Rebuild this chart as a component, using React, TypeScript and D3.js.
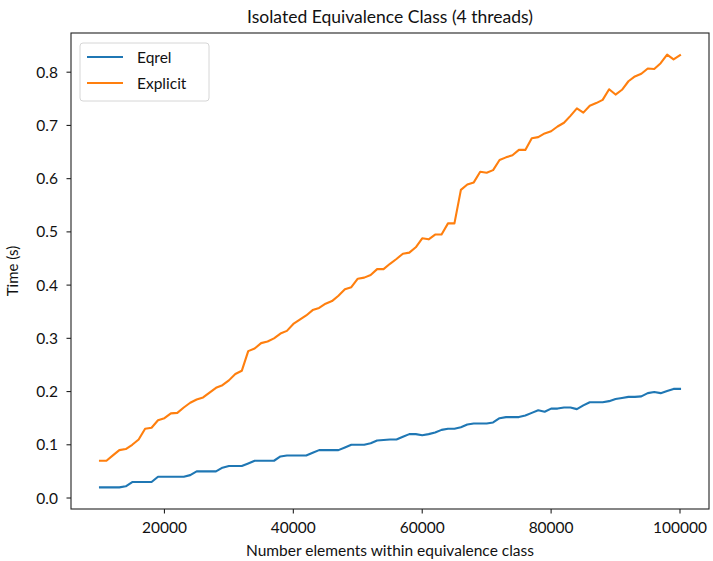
import React from 'react';
import * as d3 from 'd3';

// elements within the class, in thousands
const sizes = d3.range(10, 101).map(k => k * 1000);

const eqrel = [
  0.02, 0.02, 0.02, 0.02, 0.022, 0.03, 0.03, 0.03, 0.03, 0.04,
  0.04, 0.04, 0.04, 0.04, 0.043, 0.05, 0.05, 0.05, 0.05, 0.057,
  0.06, 0.06, 0.06, 0.065, 0.07, 0.07, 0.07, 0.07, 0.078, 0.08,
  0.08, 0.08, 0.08, 0.085, 0.09, 0.09, 0.09, 0.09, 0.095, 0.10,
  0.10, 0.10, 0.103, 0.108, 0.109, 0.11, 0.11, 0.115, 0.12, 0.12,
  0.118, 0.12, 0.123, 0.128, 0.13, 0.13, 0.133, 0.138, 0.14, 0.14,
  0.14, 0.142, 0.15, 0.152, 0.152, 0.152, 0.155, 0.16, 0.165, 0.162,
  0.168, 0.168, 0.17, 0.17, 0.167, 0.174, 0.18, 0.18, 0.18, 0.182,
  0.186, 0.188, 0.19, 0.19, 0.191, 0.197, 0.199, 0.197, 0.201, 0.205,
  0.205,
];

const explicit = [
  0.07, 0.07, 0.08, 0.09, 0.092, 0.10, 0.11, 0.13, 0.132, 0.146,
  0.15, 0.159, 0.16, 0.17, 0.179, 0.185, 0.189, 0.198, 0.207, 0.212,
  0.221, 0.233, 0.239, 0.276, 0.281, 0.291, 0.294, 0.30, 0.309, 0.314,
  0.327, 0.335, 0.343, 0.353, 0.357, 0.365, 0.37, 0.38, 0.392, 0.396,
  0.412, 0.414, 0.419, 0.43, 0.43, 0.44, 0.449, 0.459, 0.461, 0.471,
  0.488, 0.486, 0.495, 0.495, 0.516, 0.516, 0.579, 0.589, 0.593, 0.613,
  0.611, 0.616, 0.635, 0.64, 0.644, 0.654, 0.654, 0.676, 0.678, 0.685,
  0.689, 0.698, 0.705, 0.718, 0.732, 0.724, 0.737, 0.742, 0.748, 0.768,
  0.758, 0.767, 0.783, 0.792, 0.797, 0.807, 0.806, 0.817, 0.833, 0.824,
  0.832,
];

const seriesNames = ['Eqrel', 'Explicit'];
const seriesColors = ['#1f77b4', '#ff7f0e'];
const xTicks = [20000, 40000, 60000, 80000, 100000];
const yTicks = [0.0, 0.1, 0.2, 0.3, 0.4, 0.5, 0.6, 0.7, 0.8];

const W = 713;
const H = 561;
const m = { left: 71, right: 4, top: 33, bottom: 52 };
const font = 'Lato, "DejaVu Sans", sans-serif';

// matplotlib style 5% padding on both axes
const pad = (lo: number, hi: number): [number, number] => {
  const r = hi - lo;
  return [lo - r * 0.05, hi + r * 0.05];
};

export default function App() {
  const all = [eqrel, explicit];
  const xDom = pad(d3.min(sizes)!, d3.max(sizes)!);
  const yDom = pad(d3.min(all.flat())!, d3.max(all.flat())!);

  const x = d3.scaleLinear().domain(xDom).range([m.left, W - m.right]);
  const y = d3.scaleLinear().domain(yDom).range([H - m.bottom, m.top]);

  const line = d3.line<number>()
    .x((_, i) => x(sizes[i]))
    .y(d => y(d));

  const bottom = H - m.bottom;
  const right = W - m.right;

  return (
    <svg width={W} height={H} style={{ position: 'absolute', left: 0, top: 0, background: '#fff' }}
      fontFamily={font}>
      <text x={(m.left + right) / 2} y={23} textAnchor="middle" fontSize={17.5} fill="#111">
        Isolated Equivalence Class (4 threads)
      </text>

      {all.map((s, i) => (
        <path key={seriesNames[i]} d={line(s)!} fill="none" stroke={seriesColors[i]}
          strokeWidth={2.1} strokeLinejoin="round" strokeLinecap="square" />
      ))}

      <rect x={m.left} y={m.top} width={right - m.left} height={bottom - m.top}
        fill="none" stroke="#222" strokeWidth={1.1} />

      {xTicks.map(t => (
        <g key={t}>
          <line x1={x(t)} x2={x(t)} y1={bottom} y2={bottom + 4.5} stroke="#222" strokeWidth={1.1} />
          <text x={x(t)} y={bottom + 24} textAnchor="middle" fontSize={15.5} fill="#111">{t}</text>
        </g>
      ))}

      {yTicks.map(t => (
        <g key={t}>
          <line x1={m.left - 4.5} x2={m.left} y1={y(t)} y2={y(t)} stroke="#222" strokeWidth={1.1} />
          <text x={m.left - 13} y={y(t) + 5.5} textAnchor="end" fontSize={15.5} fill="#111">{t.toFixed(1)}</text>
        </g>
      ))}

      <text x={(m.left + right) / 2} y={H - 5} textAnchor="middle" fontSize={15.5} fill="#111">
        Number elements within equivalence class
      </text>
      <text transform={`translate(18,${(m.top + bottom) / 2}) rotate(-90)`} textAnchor="middle"
        fontSize={15} fill="#111">Time (s)</text>

      <g>
        <rect x={80} y={43} width={129} height={58} rx={3} fill="#fff" fillOpacity={0.8}
          stroke="#d6d6d6" strokeWidth={1} />
        {seriesNames.map((n, i) => (
          <g key={n}>
            <line x1={87} x2={123} y1={57 + i * 26} y2={57 + i * 26} stroke={seriesColors[i]} strokeWidth={2.1} />
            <text x={137} y={62.5 + i * 26} fontSize={15.5} fill="#111">{n}</text>
          </g>
        ))}
      </g>
    </svg>
  );
}
